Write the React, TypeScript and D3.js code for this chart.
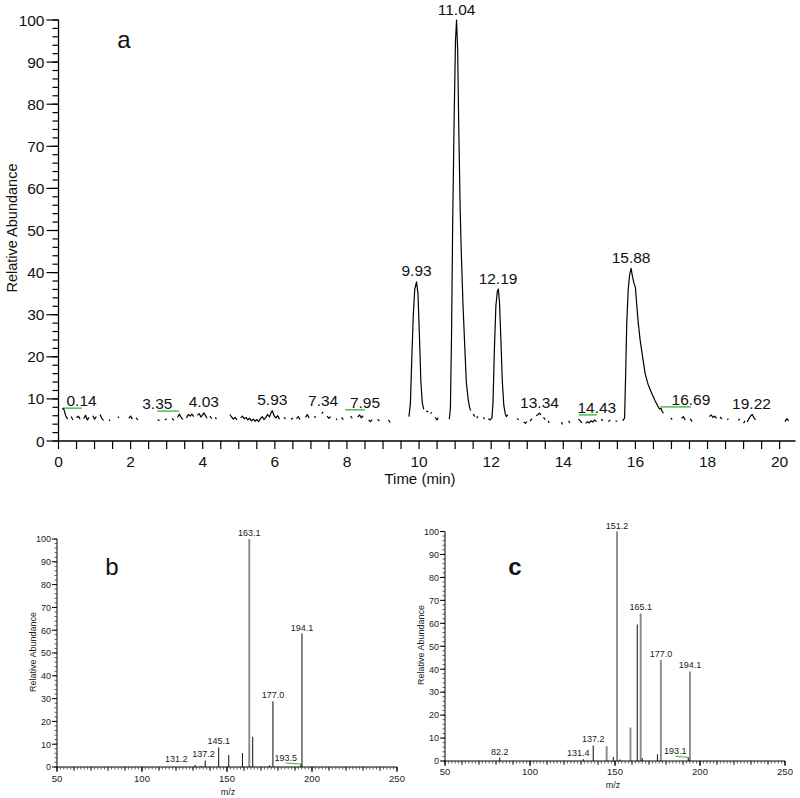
import React from "react";
import * as d3 from "d3";

const W = 800;
const H = 798;
const FONT = "'Liberation Sans', Arial, Helvetica, sans-serif";
const GREEN = "#3dbb3d";

// ---------- Panel a: chromatogram (null = gap in trace) ----------
const traceTime: (number | null)[] = [
  0.10, 0.14, 0.20, 0.25, null, 0.35, 0.40, null, 0.50, 0.55, 0.60, null,
  0.70, 0.75, 0.80, 0.85, null, 0.95, 1.00, 1.05, null, 1.15, 1.20, 1.25, null,
  1.40, 1.43, null, 1.65, 1.68, null, 1.95, 2.00, 2.05, null, 2.15, 2.20, null,
  2.75, 2.80, null, 2.95, 3.00, null, 3.15, 3.20, null,
  3.30, 3.35, 3.40, 3.45, null, 3.55, 3.60, 3.65, 3.70, 3.75, null,
  3.85, 3.90, 3.95, 4.00, 4.03, 4.08, 4.12, null, 4.20, 4.25, null, 4.35, 4.38, null,
  4.75, 4.80, 4.85, 4.90, 4.95, null,
  5.05, 5.10, 5.15, 5.20, 5.25, 5.30, 5.35, 5.40, 5.45, 5.50, 5.55, 5.60, 5.65, 5.70,
  5.75, 5.80, 5.85, 5.90, 5.93, 5.98, 6.03, 6.08, 6.13, null,
  6.25, 6.30, null, 6.45, 6.50, null, 6.60, 6.65, 6.70, null, 6.85, 6.90, 6.95, null,
  7.10, 7.13, null, 7.30, 7.34, null, 7.45, 7.50, 7.55, null, 7.70, 7.73, null,
  7.85, 7.90, null, 8.10, 8.15, null, 8.30, 8.35, 8.40, 8.45, null,
  8.60, 8.65, 8.70, null, 8.85, 8.90, null, 9.15, 9.20, null,
  9.72, 9.76, 9.80, 9.84, 9.88, 9.93, 9.97, 10.01, 10.05, 10.09, 10.13, null,
  10.20, 10.25, null, 10.32, 10.36, null, 10.45, 10.50, 10.53, null,
  10.84, 10.87, 10.90, 10.93, 10.97, 11.01, 11.04, 11.07, 11.10, 11.14, 11.17, 11.22,
  11.27, 11.31, 11.36, 11.40, 11.43, null,
  11.50, 11.55, null, 11.60, 11.63, null, 11.78, 11.82, null,
  11.92, 11.97, 12.02, 12.05, 12.09, 12.13, 12.17, 12.20, 12.23, 12.27, 12.31, 12.35,
  12.39, 12.42, 12.46, null,
  12.72, 12.76, null, 12.90, 12.95, 12.99, null, 13.08, 13.13, null,
  13.25, 13.30, 13.34, 13.38, null, 13.45, 13.50, null, 13.58, 13.61, null,
  13.95, 13.98, null, 14.15, 14.18, null,
  14.42, 14.47, 14.52, null, 14.62, 14.67, 14.72, 14.77, 14.82, 14.87, 14.92, null,
  15.05, 15.10, null, 15.25, 15.30, null, 15.45, 15.50, null,
  15.65, 15.70, 15.73, 15.76, 15.80, 15.84, 15.88, 15.92, 15.96, 16.00, 16.04, 16.08,
  16.13, 16.20, 16.27, 16.35, 16.42, 16.48, 16.55, 16.62, 16.67, 16.71, 16.74, 16.78, null,
  16.98, 17.02, null, 17.28, 17.33, 17.38, null, 17.52, 17.57, null,
  18.05, 18.10, 18.15, 18.20, 18.25, null, 18.35, 18.40, null, 18.55, 18.58, null,
  18.85, 18.90, null, 19.00, 19.04, null, 19.10, 19.15, 19.20, 19.24, 19.29, 19.33, null,
  20.15, 20.20, 20.25,
];
const traceAbund: (number | null)[] = [
  7.6, 7.8, 6.0, 5.2, null, 5.8, 5.0, null, 5.5, 5.9, 5.2, null,
  5.3, 6.1, 5.0, 5.6, null, 6.0, 5.2, 5.8, null, 6.3, 5.4, 4.9, null,
  5.1, 4.8, null, 5.8, 5.5, null, 5.4, 5.9, 5.2, null, 5.5, 5.0, null,
  5.1, 4.8, null, 5.0, 5.3, null, 5.4, 4.9, null,
  5.6, 6.4, 5.6, 5.1, null, 5.5, 6.3, 5.9, 6.4, 5.8, null,
  6.1, 6.5, 5.7, 6.2, 6.7, 6.0, 5.4, null, 5.9, 5.3, null, 5.6, 5.2, null,
  6.3, 5.7, 5.2, 5.6, 5.0, null,
  5.5, 5.9, 5.3, 5.6, 5.0, 5.4, 4.8, 5.2, 4.7, 5.1, 4.6, 5.3, 5.8, 5.1,
  5.6, 6.3, 5.7, 6.8, 7.2, 6.0, 5.5, 6.0, 5.2, null,
  5.6, 5.3, null, 5.1, 5.5, null, 5.3, 5.8, 5.1, null, 5.6, 6.3, 5.5, null,
  5.9, 5.5, null, 6.5, 6.9, null, 5.9, 5.4, 5.8, null, 5.3, 5.0, null,
  5.6, 5.1, null, 5.9, 5.4, null, 5.7, 6.2, 5.5, 6.0, null,
  5.0, 4.6, 5.1, null, 5.2, 4.7, null, 5.0, 4.4, null,
  5.8, 9, 20, 30, 36, 37.8, 35, 25, 14, 9, 7.5, null,
  7.2, 6.9, null, 6.5, 6.8, null, 5.6, 5.0, 5.5, null,
  5.2, 8, 25, 50, 75, 95, 100, 93, 75, 55, 45, 32,
  22, 14, 10, 8, 7.2, null,
  6.4, 5.8, null, 5.4, 5.9, null, 5.6, 5.2, null,
  5.3, 5.0, 5.5, 9, 22, 32, 35.5, 36.1, 33, 24, 14, 8.5,
  6.5, 5.8, 6.3, null,
  5.4, 5.0, null, 4.5, 4.2, 4.6, null, 4.7, 5.3, null,
  6.0, 6.3, 6.6, 6.2, null, 5.6, 5.1, null, 4.8, 4.3, null,
  4.5, 3.9, null, 4.8, 4.3, null,
  5.2, 4.8, 4.3, null, 4.2, 4.6, 4.3, 4.8, 4.5, 5.0, 4.6, null,
  5.2, 4.8, null, 4.6, 5.0, null, 4.8, 4.7, null,
  4.8, 5.5, 16, 28, 36, 39.5, 41, 39, 37.5, 36.5, 32, 28,
  24, 20, 16, 13.5, 12, 10.8, 9.5, 8.3, 7.6, 7.8, 7.0, 6.6, null,
  5.5, 5.1, null, 5.4, 5.8, 5.0, null, 5.3, 4.6, null,
  5.8, 6.2, 5.6, 5.9, 5.4, null, 5.7, 5.2, null, 5.0, 5.3, null,
  4.9, 5.2, null, 4.2, 4.8, null, 4.5, 5.3, 6.0, 6.3, 5.5, 5.0, null,
  4.6, 5.3, 4.8,
];

const peakText = ["0.14", "3.35", "4.03", "5.93", "7.34", "7.95", "9.93", "11.04", "12.19", "13.34", "14.43", "15.88", "16.69", "19.22"];
const peakTime = [0.14, 3.35, 4.03, 5.93, 7.34, 7.95, 9.93, 11.04, 12.19, 13.34, 14.43, 15.88, 16.69, 19.22];
const peakApex = [7.8, 7.1, 6.7, 7.2, 6.9, 7.4, 37.8, 100, 36.1, 6.6, 6.2, 41, 8.1, 6.3];
const peakShift = [0.5, -0.61, 0, 0, 0, 0.55, 0, 0, 0, 0, 0.5, 0, 0.85, 0];
const peakLeader = [true, true, false, false, false, true, false, false, false, false, true, false, true, false];

const timeTicks = d3.range(0, 20.01, 0.5);
const timeLabels = [0, 2, 4, 6, 8, 10, 12, 14, 16, 18, 20];
const abundMajor = [0, 10, 20, 30, 40, 50, 60, 70, 80, 90, 100];
const abundMinor = d3.range(0, 100.1, 2);

// ---------- Panel b: mass spectrum ----------
const specBmz = [131.2, 135.0, 137.2, 145.1, 151.0, 159.1, 163.1, 165.1, 175.0, 177.0, 193.5, 194.1];
const specBint = [0.9, 0.5, 2.9, 8.6, 5.3, 6.1, 100, 13.3, 0.7, 28.8, 1.3, 58.5];
const specBtone = ["d", "d", "d", "d", "d", "d", "l", "d", "d", "d", "d", "d"];
const labBtext = ["131.2", "137.2", "145.1", "163.1", "177.0", "193.5", "194.1"];
const labBmz = [131.2, 137.2, 145.1, 163.1, 177.0, 193.5, 194.1];
const labBapex = [0.9, 2.9, 8.6, 100, 28.8, 1.3, 58.5];
const labBshift = [-11, -1, 0, 0, 0, -9, 0];
const labBleader = [false, false, false, false, false, true, false];

// ---------- Panel c: mass spectrum ----------
const specCmz = [82.2, 131.4, 137.2, 145.1, 149.0, 151.2, 153.0, 159.1, 163.1, 165.1, 166.0, 175.0, 177.0, 193.1, 194.1];
const specCint = [1.5, 0.8, 6.8, 6.5, 1.7, 100, 0.6, 14.6, 59.5, 64.3, 1.3, 2.9, 44, 1.6, 39];
const specCtone = ["d", "d", "d", "l", "d", "l", "d", "l", "d", "l", "d", "d", "l", "d", "l"];
const labCtext = ["82.2", "131.4", "137.2", "151.2", "165.1", "177.0", "193.1", "194.1"];
const labCmz = [82.2, 131.4, 137.2, 151.2, 165.1, 177.0, 193.1, 194.1];
const labCapex = [1.5, 0.8, 6.8, 100, 64.3, 44, 1.6, 39];
const labCshift = [0, -3, 0, 0, 0, 0, -7.6, 0];
const labCleader = [false, false, false, false, false, false, true, false];

const mzLabels = [50, 100, 150, 200, 250];
const mzMinor = d3.range(50, 250.1, 2);
const mzMid = d3.range(50, 250.1, 10);

function Chromatogram() {
  const x = d3.scaleLinear().domain([0, 20.44]).range([58.5, 795.5]);
  const y = d3.scaleLinear().domain([0, 100]).range([441, 20]);
  const pts = traceTime.map((t, i) => [t, traceAbund[i]] as [number | null, number | null]);
  const line = d3
    .line<[number | null, number | null]>()
    .defined((d) => d[0] != null && d[1] != null)
    .x((d) => x(d[0] as number))
    .y((d) => y(d[1] as number));
  const x0 = x(0);
  const y0 = y(0);
  return (
    <g fontFamily={FONT}>
      <line x1={x0} x2={x(20.44)} y1={y0} y2={y0} stroke="#000" strokeWidth={1.3} />
      <line x1={x0} x2={x0} y1={y0} y2={y(100)} stroke="#000" strokeWidth={1.3} />
      {timeTicks.map((t) => (
        <line key={"xt" + t} x1={x(t)} x2={x(t)} y1={y0} y2={y0 + 8} stroke="#000" strokeWidth={1.2} />
      ))}
      {timeLabels.map((t) => (
        <text key={"xl" + t} x={x(t)} y={467} fontSize={15.5} textAnchor="middle" fill="#111">
          {t}
        </text>
      ))}
      {abundMinor.map((v) => (
        <line key={"ym" + v} x1={x0 - 6} x2={x0} y1={y(v)} y2={y(v)} stroke="#000" strokeWidth={1.2} />
      ))}
      {abundMajor.map((v) => (
        <g key={"yM" + v}>
          <line x1={x0 - 12} x2={x0} y1={y(v)} y2={y(v)} stroke="#000" strokeWidth={1.2} />
          <text x={x0 - 14} y={y(v) + 5.5} fontSize={15.5} textAnchor="end" fill="#111">
            {v}
          </text>
        </g>
      ))}
      <text x={420} y={484} fontSize={15} textAnchor="middle" fill="#111">
        Time (min)
      </text>
      <text transform={`translate(17,228) rotate(-90)`} fontSize={14.5} textAnchor="middle" fill="#111">
        Relative Abundance
      </text>
      <path d={line(pts) || ""} fill="none" stroke="#000" strokeWidth={1.2} strokeLinejoin="round" />
      {peakText.map((s, i) => {
        const px = x(peakTime[i]);
        const lx = x(peakTime[i] + peakShift[i]);
        const py = y(peakApex[i]);
        return (
          <g key={"pk" + i}>
            {peakLeader[i] && <line x1={px} x2={lx} y1={py} y2={py} stroke={GREEN} strokeWidth={1.4} />}
            <text x={lx} y={py - (peakLeader[i] ? 2 : 5.5)} fontSize={15.5} textAnchor="middle" fill="#111">
              {s}
            </text>
          </g>
        );
      })}
      <text x={124} y={48} fontSize={24} textAnchor="middle" fill="#111">
        a
      </text>
    </g>
  );
}

type SpecProps = {
  xr: [number, number];
  yr: [number, number];
  mz: number[];
  inten: number[];
  tone: string[];
  labText: string[];
  labMz: number[];
  labApex: number[];
  labShift: number[];
  labLeader: boolean[];
  letter: string;
  letterPos: [number, number];
  letterBold: boolean;
  titlePos: [number, number];
  mzPos: [number, number];
  tickLabelY: number;
};

function Spectrum(p: SpecProps) {
  const x = d3.scaleLinear().domain([50, 250]).range(p.xr);
  const y = d3.scaleLinear().domain([0, 100]).range(p.yr);
  const x0 = p.xr[0];
  const y0 = p.yr[0];
  const fs = 9;
  return (
    <g fontFamily={FONT}>
      {p.mz.map((m, i) => (
        <line
          key={"b" + i}
          x1={x(m)}
          x2={x(m)}
          y1={y0}
          y2={y(p.inten[i])}
          stroke={p.tone[i] === "l" ? "#8a8a8a" : "#222"}
          strokeWidth={p.tone[i] === "l" ? 1.9 : 1.1}
        />
      ))}
      <line x1={x0} x2={p.xr[1]} y1={y0} y2={y0} stroke="#000" strokeWidth={1} />
      <line x1={x0} x2={x0} y1={y0} y2={p.yr[1]} stroke="#000" strokeWidth={1} />
      {mzMinor.map((m) => (
        <line key={"xm" + m} x1={x(m)} x2={x(m)} y1={y0} y2={y0 + 2.5} stroke="#333" strokeWidth={0.8} />
      ))}
      {mzMid.map((m) => (
        <line key={"xM" + m} x1={x(m)} x2={x(m)} y1={y0} y2={y0 + 4} stroke="#222" strokeWidth={0.9} />
      ))}
      {mzLabels.map((m) => (
        <g key={"xl" + m}>
          <line x1={x(m)} x2={x(m)} y1={y0} y2={y0 + 5} stroke="#000" strokeWidth={1} />
          <text x={x(m)} y={p.tickLabelY} fontSize={fs + 0.5} textAnchor="middle" fill="#222">
            {m}
          </text>
        </g>
      ))}
      {abundMinor.map((v) => (
        <line key={"ym" + v} x1={x0 - 2.5} x2={x0} y1={y(v)} y2={y(v)} stroke="#333" strokeWidth={0.8} />
      ))}
      {abundMajor.map((v) => (
        <g key={"yM" + v}>
          <line x1={x0 - 5} x2={x0} y1={y(v)} y2={y(v)} stroke="#000" strokeWidth={1} />
          <text x={x0 - 6} y={y(v) + 3.3} fontSize={fs} textAnchor="end" fill="#222">
            {v}
          </text>
        </g>
      ))}
      {p.labText.map((s, i) => {
        const px = x(p.labMz[i]);
        const lx = x(p.labMz[i] + p.labShift[i]);
        const py = y(p.labApex[i]);
        return (
          <g key={"l" + i}>
            {p.labLeader[i] && <line x1={px} x2={lx} y1={py} y2={py - 1} stroke={GREEN} strokeWidth={1} />}
            <text x={lx} y={py - 3} fontSize={fs} textAnchor="middle" fill="#222">
              {s}
            </text>
          </g>
        );
      })}
      <text x={p.mzPos[0]} y={p.mzPos[1]} fontSize={fs} textAnchor="middle" fill="#222">
        m/z
      </text>
      <text
        transform={`translate(${p.titlePos[0]},${p.titlePos[1]}) rotate(-90)`}
        fontSize={fs}
        textAnchor="middle"
        fill="#222"
      >
        Relative Abundance
      </text>
      <text
        x={p.letterPos[0]}
        y={p.letterPos[1]}
        fontSize={24}
        fontWeight={p.letterBold ? "bold" : "normal"}
        textAnchor="middle"
        fill="#111"
      >
        {p.letter}
      </text>
    </g>
  );
}

export default function App() {
  return (
    <svg width={W} height={H} viewBox={`0 0 ${W} ${H}`} style={{ display: "block", position: "absolute", left: 0, top: 0, background: "#fff" }}>
      <rect x={0} y={0} width={W} height={H} fill="#fff" />
      <Chromatogram />
      <Spectrum
        xr={[57, 397]}
        yr={[767, 539]}
        mz={specBmz}
        inten={specBint}
        tone={specBtone}
        labText={labBtext}
        labMz={labBmz}
        labApex={labBapex}
        labShift={labBshift}
        labLeader={labBleader}
        letter="b"
        letterPos={[112, 575]}
        letterBold={false}
        titlePos={[36, 652]}
        mzPos={[228, 795]}
        tickLabelY={782}
      />
      <Spectrum
        xr={[445, 785]}
        yr={[761, 531.5]}
        mz={specCmz}
        inten={specCint}
        tone={specCtone}
        labText={labCtext}
        labMz={labCmz}
        labApex={labCapex}
        labShift={labCshift}
        labLeader={labCleader}
        letter="c"
        letterPos={[515, 575]}
        letterBold={true}
        titlePos={[424, 645]}
        mzPos={[613, 788]}
        tickLabelY={775}
      />
    </svg>
  );
}
